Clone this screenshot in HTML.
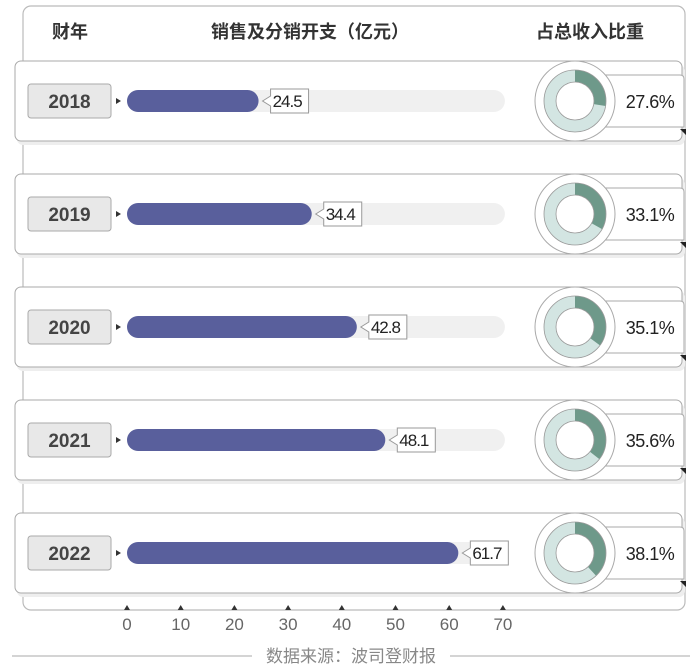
<!DOCTYPE html>
<html><head><meta charset="utf-8"><style>
body{margin:0;background:#fff;width:700px;height:664px;overflow:hidden}
svg text{font-family:"Liberation Sans","Noto Sans CJK SC",sans-serif}
</style></head><body>
<svg width="700" height="664" viewBox="0 0 700 664">
<g id="frame">
<rect x="23" y="6" width="662" height="604" rx="8" fill="#fff" stroke="#bbb" stroke-width="1.2"/>
</g>
<text x="70" y="38" font-size="18" font-weight="bold" fill="#333" text-anchor="middle">财年</text>
<text x="310" y="38" font-size="18" font-weight="bold" fill="#333" text-anchor="middle">销售及分销开支（亿元）</text>
<text x="590" y="38" font-size="18" font-weight="bold" fill="#333" text-anchor="middle">占总收入比重</text>
<g id="rows"></g>
<g id="axis"></g>
<line x1="12" y1="656" x2="252" y2="656" stroke="#aaa"/>
<line x1="450" y1="656" x2="690" y2="656" stroke="#aaa"/>
<text x="351" y="662" font-size="17" fill="#888" text-anchor="middle">数据来源：波司登财报</text>
</svg>
<script>
const years=["2018","2019","2020","2021","2022"];
const expenses=[24.5,34.4,42.8,48.1,61.7];
const ratios=[27.6,33.1,35.1,35.6,38.1];
const ticks=[0,10,20,30,40,50,60,70];
const NS="http://www.w3.org/2000/svg";
const x0=127,pxPer=5.37;
function xs(v){return x0+v*pxPer;}
function ys(i){return 101+i*113;}
function mk(tag,attrs,parent){const e=document.createElementNS(NS,tag);for(const k in attrs)e.setAttribute(k,attrs[k]);parent.appendChild(e);return e;}
const rows=document.getElementById('rows');
years.forEach((y,i)=>{
 const cy=ys(i);
 const g=mk('g',{},rows);
 
 
 mk('rect',{x:17,y:cy-36,width:668,height:80,rx:6,fill:'#eee'},g);
 const card=mk('rect',{x:15,y:cy-40,width:667,height:80,rx:6,fill:'#fff',stroke:'#aaa','stroke-width':1},g);
 
 
 const yb=mk('rect',{x:28,y:cy-17,width:83,height:34,rx:3,fill:'#e8e8e8',stroke:'#aaa'},g);
 
 
 const yt=mk('text',{x:69.5,y:cy+7,'font-size':19,'font-weight':'bold',fill:'#444','text-anchor':'middle'},g);yt.textContent=y;
 
 
 mk('path',{d:`M116 ${cy-3} L121 ${cy} L116 ${cy+3}Z`,fill:'#333'},g);
 mk('rect',{x:x0,y:cy-11,width:xs(70)-x0+2,height:22,rx:11,fill:'#f0f0f0'},g);
 const bar=mk('rect',{x:x0,y:cy-11,width:xs(expenses[i])-x0,height:22,rx:11,fill:'#595f9c'},g);
 
 
 const lx=xs(expenses[i])+12;
 const lbl=expenses[i].toFixed(1);
 const lw=lbl.length*9+2;
 mk('path',{d:`M${lx-8} ${cy} L${lx} ${cy-5} L${lx} ${cy-12} L${lx+lw} ${cy-12} L${lx+lw} ${cy+12} L${lx} ${cy+12} L${lx} ${cy+5}Z`,fill:'#fff',stroke:'#999'},g);
 const vt=mk('text',{x:lx+2,y:cy+6,'font-size':17,fill:'#222','letter-spacing':'-1'},g);vt.textContent=lbl;
 
 
 mk('path',{d:`M600 ${cy-26} L680 ${cy-26} Q684 ${cy-26} 684 ${cy-22} L684 ${cy+26} L600 ${cy+26}Z`,fill:'#fff',stroke:'#aaa'},g);
 mk('path',{d:`M680 ${cy+28} L686 ${cy+28} L686 ${cy+34}Z`,fill:'#222'},g);
 const cx=575;
 mk('circle',{cx:cx,cy:cy,r:40,fill:'#fff',stroke:'#aaa'},g);
 mk('circle',{cx:cx,cy:cy,r:25,fill:'none',stroke:'#d3e5e2','stroke-width':12},g);
 const a=ratios[i]/100*2*Math.PI;
 const R=31,r=19;
 const ex=cx+R*Math.sin(a),ey=cy-R*Math.cos(a),ix=cx+r*Math.sin(a),iy=cy-r*Math.cos(a);
 const seg=mk('path',{d:`M${cx} ${cy-R} A${R} ${R} 0 ${a>Math.PI?1:0} 1 ${ex} ${ey} L${ix} ${iy} A${r} ${r} 0 ${a>Math.PI?1:0} 0 ${cx} ${cy-r}Z`,fill:'#6e998a'},g);
 
 
 mk('circle',{cx:cx,cy:cy,r:31,fill:'none',stroke:'#999','stroke-width':0.8},g);
 mk('circle',{cx:cx,cy:cy,r:19,fill:'#fff',stroke:'#999','stroke-width':0.8},g);
 const pt=mk('text',{x:650,y:cy+7,'font-size':18,fill:'#222','text-anchor':'middle','letter-spacing':'-0.5'},g);pt.textContent=ratios[i].toFixed(1)+'%';
 
 
});
const ax=document.getElementById('axis');
ticks.forEach(t=>{
 const x=xs(t);
 const m=mk('path',{d:`M${x-3} 610 L${x} 605 L${x+3} 610Z`,fill:'#333'},ax);
 
 
 const tt=mk('text',{x:x,y:630,'font-size':17,fill:'#666','text-anchor':'middle'},ax);tt.textContent=t;
 
 
});
</script>
</body></html>
